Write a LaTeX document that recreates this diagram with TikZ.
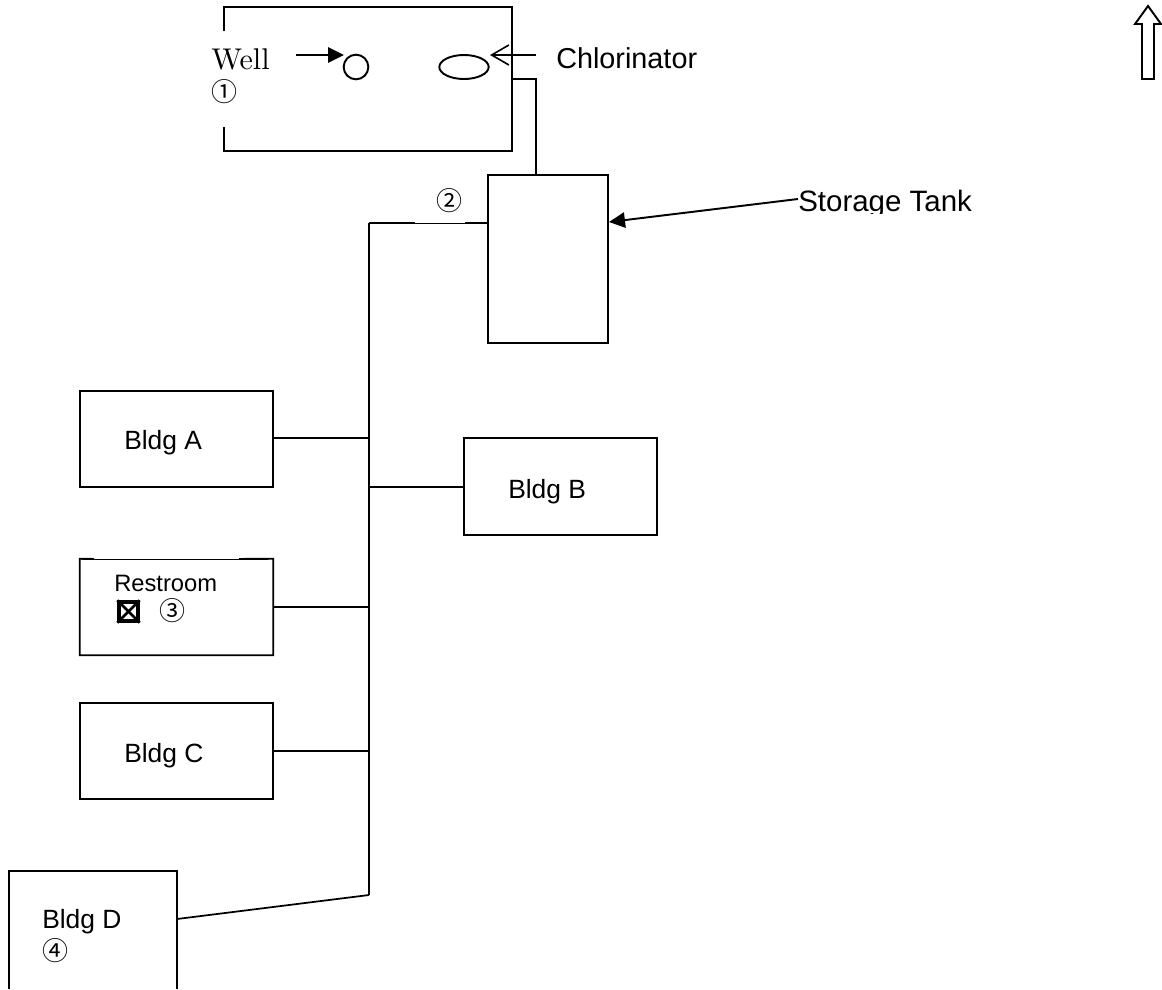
\documentclass[tikz,border=0pt]{standalone}
\usepackage{fontspec}
\setmainfont{Liberation Sans}
\newfontfamily\lmfont{lmroman10-regular.otf}
\newfontfamily\symfont{Noto Sans CJK JP}
\usetikzlibrary{fit,arrows.meta,shapes.geometric}
\tikzset{
  px/.style={x=0.75pt,y=-0.75pt},
  ln/.style={line width=1.45pt,line join=miter,black},
  box/.style={ln,draw,inner sep=0pt,rectangle},
  lab/.style={inner sep=0pt,anchor=base west,font=\fontsize{19.8pt}{22pt}\selectfont},
  big/.style={inner sep=0pt,anchor=base west,font=\fontsize{21.6pt}{24pt}\selectfont},
  circ/.style={inner sep=0pt,anchor=center,font=\symfont\fontsize{19.5pt}{21pt}\selectfont},
  solidtip/.style={-{Stealth[length=12pt,width=11.5pt,inset=0pt]}},
  opentip/.style={-{Straight Barb[length=13pt,width=15pt,line width=1.2pt]}}
}
\begin{document}
\begin{tikzpicture}[px]
\useasboundingbox (0,0) rectangle (1162,989);
\fill[white] (0,0) rectangle (1162,989);

% well house, open on its left side
\coordinate (wellgaptop) at (224,31);
\coordinate (wellgapbot) at (224,127);
\coordinate (wellNW) at (224,7);
\coordinate (wellNE) at (512,7);
\coordinate (wellSE) at (512,151);
\coordinate (wellSW) at (224,151);
\draw[ln] (wellgaptop) -- (wellNW) -- (wellNE) -- (wellSE) -- (wellSW) -- (wellgapbot);

\node[lab,font=\lmfont\fontsize{22.5pt}{24pt}\selectfont] (welltext) at (211,69) {Well};
\node[circ] (n1) at (224,92) {①};
\node[ln,draw,circle,inner sep=0pt,minimum size=18.5pt] (wellc) at (356,67) {};
\node[ln,draw,ellipse,inner sep=0pt,minimum width=37pt,minimum height=18pt] (chlorell) at (464,67) {};
\coordinate (wellarrow) at (296,55);
\coordinate (wellarrowend) at (344,55);
\draw[ln,solidtip] (wellarrow) -- (wellarrowend);

\node[big] (chlor) at (556,68) {Chlorinator};
\coordinate (chlorstart) at (536,55);
\coordinate (chlorend) at (490,55);
\draw[ln,opentip] (chlorstart) -- (chlorend);

% storage tank
\node[box,fit={(488,175)(608,343)}] (tank) {};
\coordinate (pipeA) at (512,79);
\coordinate (pipeB) at (536,79);
\draw[ln] (pipeA) -- (pipeB) -- (pipeB |- tank.north);

\begin{scope}
\clip (780,180) rectangle (1000,213.5);
\node[big,font=\fontsize{22.1pt}{24pt}\selectfont] (storage) at (798,211) {Storage Tank};
\end{scope}
\coordinate (storagestart) at (798,199);
\coordinate (tankin) at (609,222);
\draw[ln,solidtip] (storagestart) -- (tankin);

\node[circ] (n2) at (449,201) {②};

% main line
\coordinate (top) at (369,223);
\coordinate (tankleft) at (488,223);
\coordinate (thinA) at (415,223);
\coordinate (thinB) at (465,223);
\coordinate (bottom) at (369,895);
\draw[ln] (top) -- (thinA);
\draw[line width=0.7pt] (thinA) -- (thinB);
\draw[ln] (thinB) -- (tankleft);
\draw[ln] (top) -- (bottom);

% buildings
\node[box,fit={(80,391)(273,487)}] (bldgA) {};
\node[lab] (tA) at (124,449) {Bldg A};
\node[box,fit={(464,438)(657,535)}] (bldgB) {};
\node[lab] (tB) at (508,498) {Bldg B};
\node[inner sep=0pt,fit={(80,559)(273,655)}] (rest) {};
\draw[ln] (94,559) -- (rest.north west) -- (rest.south west) -- (rest.south east) -- (rest.north east) -- (239,559);
\draw[line width=0.7pt] (94,559) -- (239,559);
\node[lab,font=\fontsize{17.8pt}{20pt}\selectfont] (tR) at (114,591) {Restroom};
\node[draw,line width=2.5pt,inner sep=0pt,fit={(119,602)(138,621)}] (cross) {};
\draw[line width=2.1pt] (cross.north west) -- (cross.south east);
\draw[line width=2.1pt] (cross.north east) -- (cross.south west);
\node[circ] (n3) at (172,611) {③};
\node[box,fit={(80,703)(273,799)}] (bldgC) {};
\node[lab] (tC) at (124,762) {Bldg C};
\node[inner sep=0pt,fit={(9,871)(177,989)}] (bldgD) {};
\draw[ln] (bldgD.south west) -- (bldgD.north west) -- (bldgD.north east) -- (bldgD.south east);
\node[lab] (tD) at (42,928) {Bldg D};
\node[circ] (n4) at (55,951) {④};

% branches
\coordinate (jA) at (369,438);
\coordinate (jB) at (369,487);
\coordinate (jR) at (369,607);
\coordinate (jC) at (369,751);
\draw[line width=1.3pt] (bldgA.east |- jA) -- (jA);
\draw[line width=1.3pt] (jB) -- (bldgB.west |- jB);
\draw[line width=1.3pt] (rest.east |- jR) -- (jR);
\draw[line width=1.3pt] (bldgC.east |- jC) -- (jC);
\coordinate (dout) at (177,919);
\draw[line width=1.3pt] (dout) -- (bottom);

% north arrow
\coordinate (nTip) at (1148,6);
\draw[ln] (nTip) -- (1161,24) -- (1154,24) -- (1154,79) -- (1142,79) -- (1142,24) -- (1135,24) -- cycle;
\end{tikzpicture}
\end{document}
